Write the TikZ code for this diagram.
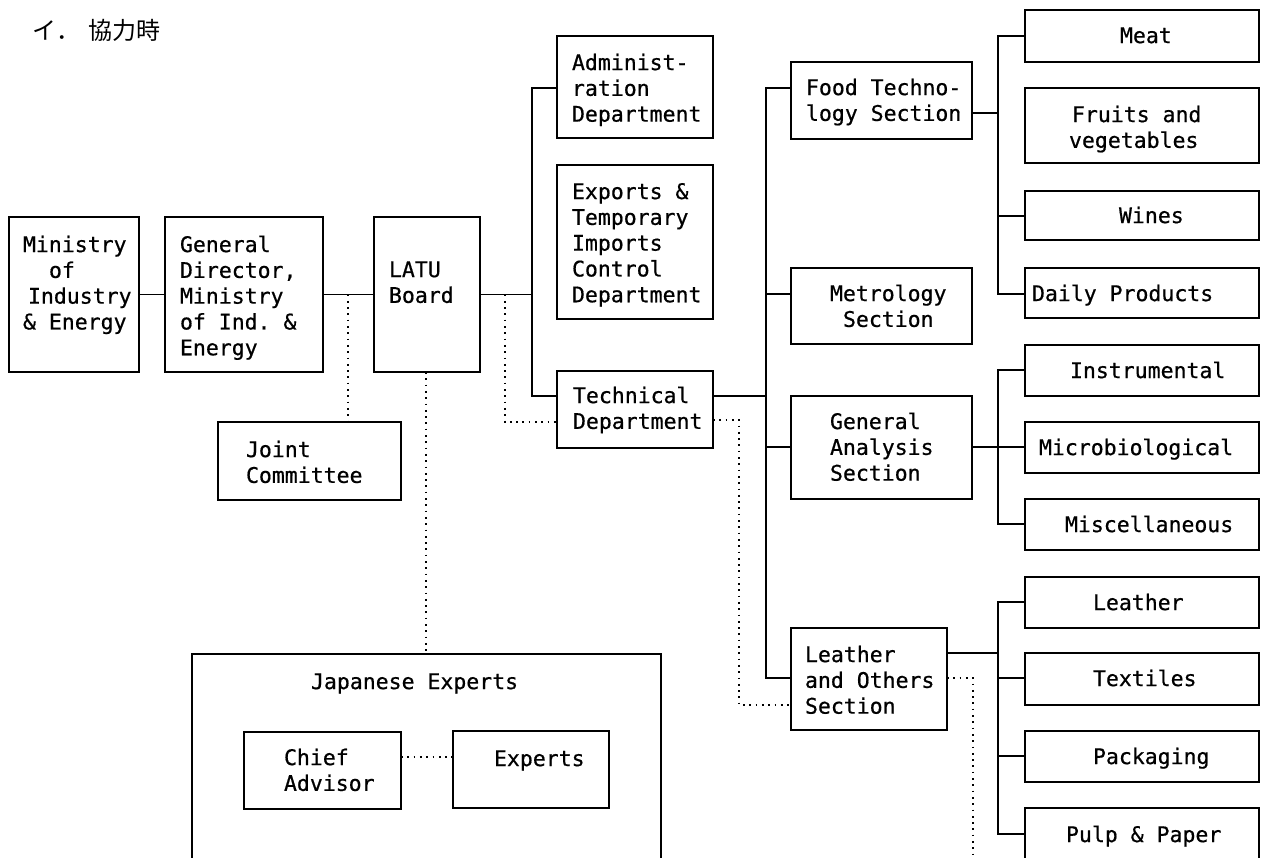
\documentclass[tikz,border=0pt]{standalone}
\usepackage{fontspec}
\setmonofont[FakeBold=0.6]{DejaVu Sans Mono}
\newfontfamily\jpfont{Noto Sans CJK JP}
\newcommand\boxfont{\ttfamily\fontsize{21.5}{25.8}\selectfont}
\tikzset{
  box/.style={draw, line width=1.4pt, rectangle, inner sep=0pt, outer sep=0pt, anchor=north west, font=\boxfont},
  conn/.style={line width=1.2pt},
  dots/.style={line width=1.7pt, dash pattern=on 1.7pt off 4.6pt},
  titlestyle/.style={font=\jpfont\fontsize{24}{24}\selectfont, inner sep=0pt, anchor=west},
}
\newcommand\tl[1]{\hbox to\hsize{\hskip\xo\strut#1\hss}}
\newcommand\bx[8]{%
 \node[box, minimum width={(#4)-(#2)}, minimum height={(#5)-(#3)}] (#1) at (#2,#3)
 {\vbox to \dimexpr#5pt-#3pt\relax{\hsize=\dimexpr#4pt-#2pt\relax\def\xo{#6pt}\kern#7pt\relax #8\vss}};}
\begin{document}
\begin{tikzpicture}[x=1pt,y=-1pt]
\useasboundingbox (0,0) rectangle (1261,857);
\clip (0,0) rectangle (1261,857);
\fill[white] (0,0) rectangle (1261,857);

\node[titlestyle] (title) at (32,30) {イ．\hspace{8pt}協力時};

% left chain
\bx{min}{9}{217}{139}{372}{14}{17}{\tl{Ministry}\tl{\hspace*{26pt}of}\tl{\hspace*{5pt}Industry}\tl{\& Energy}}
\bx{gd}{165}{217}{323}{372}{15}{17}{\tl{General}\tl{Director,}\tl{Ministry}\tl{of Ind. \&}\tl{Energy}}
\bx{latu}{374}{217}{480}{372}{15}{42}{\tl{LATU}\tl{Board}}
\bx{jc}{218}{422}{401}{500}{28}{17}{\tl{Joint}\tl{Committee}}

% departments
\bx{admin}{557}{36}{713}{138}{15}{16}{\tl{Administ-}\tl{ration}\tl{Department}}
\bx{exp}{557}{165}{713}{319}{15}{16}{\tl{Exports \&}\tl{Temporary}\tl{Imports}\tl{Control}\tl{Department}}
\bx{tech}{557}{371}{713}{448}{16}{14}{\tl{Technical}\tl{Department}}

% sections
\bx{food}{791}{62}{972}{139}{15}{15}{\tl{Food Techno-}\tl{logy Section}}
\bx{metro}{791}{268}{972}{344}{39}{15}{\tl{Metrology}\tl{\hspace*{13pt}Section}}
\bx{ga}{791}{396}{972}{499}{39}{15}{\tl{General}\tl{Analysis}\tl{Section}}
\bx{lo}{791}{628}{947}{730}{14}{16}{\tl{Leather}\tl{and Others}\tl{Section}}

% right column
\bx{meat}{1025}{10}{1259}{62}{95}{15}{\tl{Meat}}
\bx{fruit}{1025}{88}{1259}{163}{47}{16}{\tl{Fruits and}\tl{\hspace*{-3pt}vegetables}}
\bx{wine}{1025}{191}{1259}{240}{94}{14}{\tl{Wines}}
\bx{daily}{1025}{268}{1259}{318}{7}{15}{\tl{Daily Products}}
\bx{instr}{1025}{345}{1259}{396}{45}{15}{\tl{Instrumental}}
\bx{micro}{1025}{422}{1259}{473}{14}{15}{\tl{Microbiological}}
\bx{misc}{1025}{499}{1259}{550}{40}{15}{\tl{Miscellaneous}}
\bx{leather}{1025}{577}{1259}{628}{68}{15}{\tl{Leather}}
\bx{textile}{1025}{653}{1259}{705}{68}{15}{\tl{Textiles}}
\bx{pack}{1025}{731}{1259}{782}{68}{15}{\tl{Packaging}}
\bx{pulp}{1025}{808}{1259}{880}{41}{16}{\tl{Pulp \& Paper}}

% Japanese experts
\bx{je}{192}{654}{661}{880}{119}{17}{\tl{Japanese Experts}}
\bx{chief}{244}{732}{401}{809}{40}{15}{\tl{Chief}\tl{Advisor}}
\bx{experts}{453}{731}{609}{808}{41}{17}{\tl{Experts}}

% ---- connectors ----
\draw[conn] (min.east) -- (gd.west);
\draw[conn] (gd.east) -- (latu.west);
\coordinate (j1) at (348,294.5);
\draw[dots] (j1) -- (jc.north -| j1);
\coordinate (lb) at (426,372);
\draw[dots] (lb) -- (je.north -| lb);

\coordinate (t1a) at (532,88);
\coordinate (t1b) at (532,396);
\draw[conn] (latu.east) -- (latu.east -| t1a);
\draw[conn] (admin.west |- t1a) -- (t1a) -- (t1b) -- (tech.west |- t1b);
\coordinate (d1) at (505,294.5);
\coordinate (d2) at (505,422);
\draw[dots] (d1) -- (d2) -- (tech.west |- d2);

\coordinate (t2a) at (766,88);
\coordinate (t2b) at (766,678);
\coordinate (t2t) at (766,396);
\coordinate (t2m) at (766,294);
\coordinate (t2g) at (766,447);
\draw[conn] (tech.east |- t2t) -- (t2t);
\draw[conn] (food.west |- t2a) -- (t2a) -- (t2b) -- (lo.west |- t2b);
\draw[conn] (t2m) -- (metro.west |- t2m);
\draw[conn] (t2g) -- (ga.west |- t2g);
\coordinate (d3) at (739,420);
\coordinate (d4) at (739,705);
\draw[dots] (tech.east |- d3) -- (d3) -- (d4) -- (lo.west |- d4);

\coordinate (t3a) at (998,36);
\coordinate (t3b) at (998,294);
\coordinate (t3f) at (998,113);
\coordinate (t3w) at (998,216);
\draw[conn] (meat.west |- t3a) -- (t3a) -- (t3b) -- (daily.west |- t3b);
\draw[conn] (food.east |- t3f) -- (t3f);
\draw[conn] (t3w) -- (wine.west |- t3w);

\coordinate (t4a) at (998,370);
\coordinate (t4b) at (998,524);
\coordinate (t4g) at (998,447);
\draw[conn] (instr.west |- t4a) -- (t4a) -- (t4b) -- (misc.west |- t4b);
\draw[conn] (ga.east |- t4g) -- (micro.west |- t4g);

\coordinate (t5a) at (998,602);
\coordinate (t5b) at (998,834);
\coordinate (t5l) at (998,653);
\coordinate (t5t) at (998,678);
\coordinate (t5p) at (998,756);
\draw[conn] (leather.west |- t5a) -- (t5a) -- (t5b) -- (pulp.west |- t5b);
\draw[conn] (lo.east |- t5l) -- (t5l);
\draw[conn] (t5t) -- (textile.west |- t5t);
\draw[conn] (t5p) -- (pack.west |- t5p);
\coordinate (d5) at (973,678);
\coordinate (d6) at (973,870);
\draw[dots] (lo.east |- d5) -- (d5) -- (d6);

\coordinate (cj) at (427,757);
\draw[dots] (chief.east |- cj) -- (experts.west |- cj);
\end{tikzpicture}
\end{document}
